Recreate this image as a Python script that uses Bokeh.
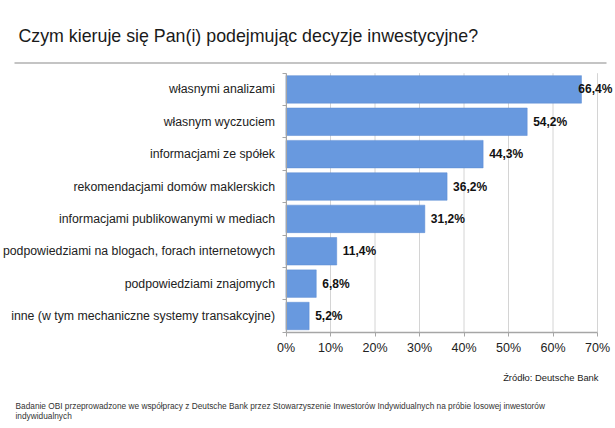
from bokeh.plotting import figure
from bokeh.models import Range1d, FixedTicker, LinearAxis
from bokeh.embed import file_html
from bokeh.resources import INLINE
from bokeh.core.properties import value

# ---- data ----
categories = [
    "własnymi analizami",
    "własnym wyczuciem",
    "informacjami ze spółek",
    "rekomendacjami domów maklerskich",
    "informacjami publikowanymi w mediach",
    "podpowiedziami na blogach, forach internetowych",
    "podpowiedziami znajomych",
    "inne (w tym mechaniczne systemy transakcyjne)",
]
shares = [66.4, 54.2, 44.3, 36.2, 31.2, 11.4, 6.8, 5.2]
x_ticks = [0, 10, 20, 30, 40, 50, 60, 70]
x_tick_labels = ["0%", "10%", "20%", "30%", "40%", "50%", "60%", "70%"]
value_labels = [f"{v:.1f}".replace(".", ",") + "%" for v in shares]
title_text = "Czym kieruje się Pan(i) podejmując  decyzje inwestycyjne?"
source_text = "Źródło: Deutsche Bank"
note_lines = [
    "Badanie OBI przeprowadzone  we  współpracy z Deutsche Bank przez Stowarzyszenie Inwestorów  Indywidualnych na próbie  losowej inwestorów",
    "indywidualnych",
]

FONT = "Liberation Sans"
W, H = 615, 428
X0, PX = 285.5, 4.45          # pixel of 0 %, pixels per 1 %
Y0, BAND = 72.7, 32.375       # pixel of the top of the first band, band height

n = len(categories)
centers = [i + 0.5 for i in range(n)]
bounds = [float(i) for i in range(n + 1)]


def dx(px):
    return (px - X0) / PX


def dy(py):
    return (py - Y0) / BAND


p = figure(width=W, height=H, output_backend="svg", toolbar_location=None,
           x_range=Range1d(dx(0), dx(W)), y_range=Range1d(dy(H), dy(0)),
           x_axis_type=None, y_axis_type=None,
           min_border=0, min_border_left=0, min_border_right=0,
           min_border_top=0, min_border_bottom=0)
p.outline_line_color = None
p.background_fill_color = "white"

# vertical grid lines (from the tick list), only over the bar area
p.segment(x0=x_ticks, x1=x_ticks, y0=[bounds[0]] * len(x_ticks), y1=[bounds[-1]] * len(x_ticks),
          line_color="#d4d4d4", line_width=1)

p.hbar(y=centers, right=shares, left=0, height=0.85,
       fill_color="#6899df", line_color="#5b8bd3", line_width=0.5)

gap = 6 / PX
label_x = [min(v + gap, 65.7) for v in shares]
p.text(x=label_x, y=centers, text=value_labels, text_font=value(FONT),
       text_font_style="bold", text_font_size="12px", text_color="#111111",
       text_baseline="middle", text_align="left")

# x axis, fixed under the bars
xa = LinearAxis(fixed_location=bounds[-1], bounds=(x_ticks[0], x_ticks[-1]),
                ticker=FixedTicker(ticks=x_ticks, minor_ticks=[]))
xa.major_label_overrides = {t: l for t, l in zip(x_ticks, x_tick_labels)}
xa.axis_line_color = "#a6a6a6"
xa.axis_line_width = 1.3
xa.major_tick_line_color = "#a6a6a6"
xa.major_tick_in = 0
xa.major_tick_out = 4
xa.major_label_standoff = 5
xa.major_label_text_font = FONT
xa.major_label_text_font_size = "12.5px"
xa.major_label_text_color = "#222222"
p.add_layout(xa, "below")

# y axis, fixed at 0 %
ya = LinearAxis(fixed_location=x_ticks[0], bounds=(bounds[0], bounds[-1]),
                ticker=FixedTicker(ticks=centers, minor_ticks=bounds))
ya.major_label_overrides = {c: t for c, t in zip(centers, categories)}
ya.axis_line_color = "#a6a6a6"
ya.major_tick_line_color = None
ya.major_tick_out = 0
ya.major_tick_in = 0
ya.minor_tick_line_color = "#a6a6a6"
ya.minor_tick_out = 4
ya.minor_tick_in = 0
ya.major_label_standoff = 7
ya.major_label_text_font = FONT
ya.major_label_text_font_size = "12.3px"
ya.major_label_text_color = "#222222"
p.add_layout(ya, "left")

# header
p.text(x=[dx(18)], y=[dy(35.5)], text=[title_text], text_font=value(FONT),
       text_font_size="17.8px", text_color="#1a1a1a", text_baseline="alphabetic")
p.segment(x0=[dx(14)], x1=[dx(606)], y0=[dy(62.5)], y1=[dy(62.5)],
          line_color="#b0b0b0", line_width=1.4)

# footer
p.text(x=[dx(598)], y=[dy(377)], text=[source_text], text_font=value(FONT),
       text_font_size="9.4px", text_color="#222222", text_align="right",
       text_baseline="middle")
p.text(x=[dx(15), dx(15)], y=[dy(405.5), dy(415)], text=note_lines,
       text_font=value(FONT), text_font_size="8.3px", text_color="#333333",
       text_baseline="middle")

open("out.html", "w").write(file_html(p, INLINE))
